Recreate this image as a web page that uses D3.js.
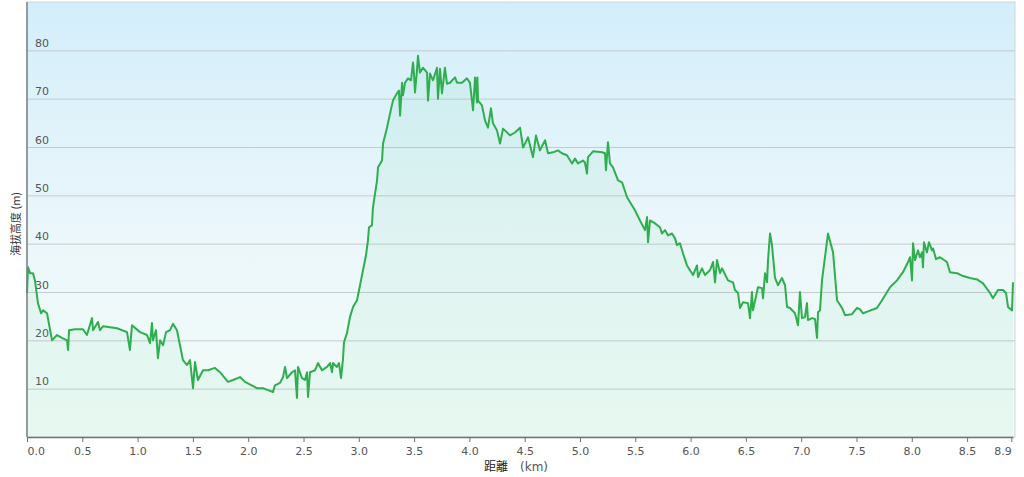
<!DOCTYPE html>
<html>
<head>
<meta charset="utf-8">
<script src="https://cdn.jsdelivr.net/npm/d3@7"></script>
<style>
  html, body { margin: 0; padding: 0; background: #fff; }
  svg { display: block; }
  .tick text { font-family: 'DejaVu Sans', Verdana, sans-serif; font-size: 11px; fill: #555; }
</style>
</head>
<body>
<svg></svg>
<script>
// elevation profile
let distKm = [
  0.000, 0.009, 0.027, 0.054, 0.072, 0.099, 0.127, 0.145, 0.181, 0.226,
  0.271, 0.316, 0.362, 0.371, 0.380, 0.434, 0.506, 0.542, 0.588, 0.597,
  0.642, 0.660, 0.687, 0.814, 0.904, 0.931, 0.949, 1.022, 1.085, 1.112,
  1.130, 1.139, 1.166, 1.184, 1.203, 1.230, 1.257, 1.293, 1.320, 1.356,
  1.410, 1.447, 1.474, 1.501, 1.519, 1.546, 1.591, 1.637, 1.700, 1.745,
  1.817, 1.863, 1.926, 1.971, 2.080, 2.134, 2.179, 2.224, 2.242, 2.288,
  2.315, 2.333, 2.351, 2.396, 2.423, 2.441, 2.450, 2.486, 2.514, 2.532,
  2.541, 2.559, 2.604, 2.631, 2.667, 2.712, 2.740, 2.758, 2.767, 2.803,
  2.821, 2.839, 2.857, 2.866, 2.893, 2.920, 2.948, 2.984, 3.011, 3.038,
  3.065, 3.083, 3.092, 3.119, 3.128, 3.165, 3.174, 3.210, 3.219, 3.255,
  3.282, 3.309, 3.345, 3.363, 3.373, 3.391, 3.400, 3.418, 3.445, 3.472,
  3.490, 3.499, 3.508, 3.526, 3.535, 3.553, 3.580, 3.617, 3.626, 3.644,
  3.671, 3.707, 3.716, 3.734, 3.752, 3.779, 3.797, 3.825, 3.870, 3.888,
  3.933, 3.978, 4.005, 4.033, 4.051, 4.069, 4.072, 4.078, 4.114, 4.141,
  4.168, 4.195, 4.213, 4.250, 4.277, 4.304, 4.367, 4.412, 4.458, 4.485,
  4.530, 4.575, 4.602, 4.638, 4.684, 4.711, 4.756, 4.801, 4.837, 4.882,
  4.928, 4.955, 4.982, 5.027, 5.045, 5.063, 5.072, 5.118, 5.199, 5.226,
  5.235, 5.253, 5.271, 5.298, 5.344, 5.380, 5.425, 5.497, 5.542, 5.588,
  5.606, 5.615, 5.633, 5.678, 5.723, 5.741, 5.769, 5.796, 5.832, 5.859,
  5.877, 5.904, 5.931, 5.967, 6.022, 6.058, 6.067, 6.103, 6.130, 6.175,
  6.203, 6.221, 6.239, 6.266, 6.284, 6.338, 6.383, 6.401, 6.429, 6.447,
  6.474, 6.519, 6.537, 6.555, 6.564, 6.609, 6.646, 6.655, 6.673, 6.691,
  6.700, 6.718, 6.736, 6.763, 6.790, 6.826, 6.854, 6.872, 6.899, 6.944,
  6.971, 6.989, 7.007, 7.034, 7.052, 7.061, 7.098, 7.125, 7.143, 7.152,
  7.170, 7.188, 7.215, 7.242, 7.288, 7.324, 7.369, 7.396, 7.459, 7.505,
  7.532, 7.559, 7.604, 7.685, 7.731, 7.803, 7.866, 7.920, 7.966, 7.984,
  8.002, 8.011, 8.029, 8.056, 8.074, 8.092, 8.101, 8.110, 8.137, 8.155,
  8.183, 8.192, 8.219, 8.255, 8.318, 8.345, 8.409, 8.463, 8.526, 8.590,
  8.644, 8.707, 8.734, 8.779, 8.825, 8.852, 8.870, 8.906, 8.915
]

let elevM = [
  29.8, 35.1, 33.9, 33.9, 32.4, 27.7, 25.6, 26.2, 25.6, 20.0,
  21.1, 20.5, 20.0, 18.0, 22.1, 22.3, 22.3, 21.1, 24.6, 22.1,
  23.8, 22.1, 22.9, 22.5, 21.7, 18.0, 23.1, 21.7, 21.1, 19.4,
  23.6, 20.0, 22.1, 16.3, 20.0, 19.0, 21.7, 22.1, 23.4, 22.1,
  15.9, 14.9, 15.9, 10.1, 15.5, 11.8, 13.8, 13.8, 14.3, 13.4,
  11.4, 11.8, 12.4, 11.4, 10.1, 10.1, 9.7, 9.3, 10.7, 11.2,
  12.4, 14.5, 12.2, 13.4, 13.8, 8.1, 14.5, 12.2, 11.8, 13.4,
  8.3, 13.4, 13.8, 15.3, 13.8, 14.5, 15.3, 13.4, 15.3, 14.5,
  15.3, 12.2, 16.1, 19.6, 21.5, 24.8, 26.9, 28.3, 31.4, 34.5,
  37.6, 40.7, 43.4, 43.8, 47.5, 53.1, 55.8, 57.2, 60.7, 64.0,
  66.9, 69.6, 71.1, 71.7, 66.5, 73.3, 70.7, 73.3, 74.2, 73.8,
  77.5, 75.2, 71.3, 75.8, 78.9, 75.4, 76.4, 75.4, 69.6, 75.2,
  73.8, 76.4, 70.0, 76.2, 71.1, 76.4, 73.1, 73.3, 74.4, 73.3,
  73.3, 74.2, 73.3, 67.6, 74.4, 69.2, 74.4, 69.6, 68.6, 65.5,
  64.0, 68.0, 64.9, 63.4, 60.7, 63.8, 62.4, 63.0, 64.0, 59.9,
  62.0, 57.9, 62.4, 59.3, 61.4, 58.7, 58.9, 59.3, 58.7, 58.3,
  56.6, 57.6, 56.6, 57.2, 56.8, 54.5, 57.9, 59.1, 58.9, 58.7,
  55.2, 61.0, 56.6, 55.8, 53.1, 52.7, 49.6, 46.9, 44.8, 42.8,
  45.5, 40.3, 44.8, 44.2, 43.4, 42.1, 42.8, 41.7, 42.1, 41.1,
  39.7, 40.1, 38.0, 35.5, 33.5, 35.5, 33.1, 34.9, 33.5, 34.5,
  36.2, 32.0, 36.6, 33.9, 34.9, 32.4, 32.0, 30.4, 29.8, 26.7,
  27.9, 27.7, 24.6, 30.0, 26.2, 31.0, 30.8, 28.7, 33.9, 32.0,
  36.6, 42.1, 39.7, 32.9, 31.4, 32.9, 31.4, 26.9, 26.7, 25.6,
  23.1, 30.0, 24.6, 24.8, 27.7, 24.2, 24.6, 24.4, 20.5, 25.8,
  26.2, 32.4, 37.2, 42.1, 38.2, 28.3, 26.7, 25.2, 25.4, 26.7,
  26.4, 25.6, 26.0, 26.7, 28.3, 31.0, 32.4, 34.1, 36.2, 37.2,
  32.4, 40.1, 36.6, 38.6, 37.2, 38.2, 35.1, 40.3, 38.2, 40.3,
  38.6, 39.0, 36.8, 37.2, 36.2, 34.1, 33.9, 33.3, 32.9, 32.6,
  31.8, 29.8, 28.7, 30.4, 30.4, 29.8, 26.9, 26.2, 32.0
]

let xTicks = [0, 0.5, 1, 1.5, 2, 2.5, 3, 3.5, 4, 4.5, 5, 5.5, 6, 6.5, 7, 7.5, 8, 8.5, 8.9]
let yTicks = [10, 20, 30, 40, 50, 60, 70, 80]
let xMax = 8.915
let yMax = 90

let width = 1024
let height = 477
let plotLeft = 27
let plotRight = 1013
let plotTop = 2
let plotBottom = 437

let svg = d3.select('svg').attr('width', width).attr('height', height)

let points = distKm.map((d, i) => ({ km: d, m: elevM[i] }))

let xScale = d3.scaleLinear().domain([0, xMax]).range([plotLeft, plotRight])
let yScale = d3.scaleLinear().domain([0, yMax]).range([plotBottom, plotTop])

let defs = svg.append('defs')

let bg = defs.append('linearGradient').attr('id', 'bg')
  .attr('x1', 0).attr('y1', 0).attr('x2', 0).attr('y2', 1)
bg.append('stop').attr('offset', '0%').attr('stop-color', '#d3eefa')
bg.append('stop').attr('offset', '55%').attr('stop-color', '#ecf7fb')
bg.append('stop').attr('offset', '100%').attr('stop-color', '#f2fcf7')

let fillGrad = defs.append('linearGradient').attr('id', 'areaFill')
  .attr('x1', 0).attr('y1', 0).attr('x2', 0).attr('y2', 1)
fillGrad.append('stop').attr('offset', '0%').attr('stop-color', '#3cc27a').attr('stop-opacity', 0.08)
fillGrad.append('stop').attr('offset', '100%').attr('stop-color', '#3cc27a').attr('stop-opacity', 0.06)

// plot background with light frame
svg.append('rect')
  .attr('x', plotLeft).attr('y', plotTop)
  .attr('width', plotRight + 2 - plotLeft).attr('height', plotBottom - plotTop)
  .attr('fill', 'url(#bg)')
  .attr('stroke', '#cfd6da')
  .attr('stroke-width', 1)

// grid + y labels
let yAxis = d3.axisLeft(yScale)
  .tickValues(yTicks)
  .tickSize(-(plotRight + 2 - plotLeft))
  .tickFormat(d3.format('d'))

let gy = svg.append('g')
  .attr('transform', 'translate(' + plotLeft + ', 0)')
  .call(yAxis)
gy.select('.domain').remove()
gy.selectAll('.tick line').attr('stroke', '#c3cbcf').attr('stroke-width', 1)
gy.selectAll('.tick text')
  .attr('x', 8)
  .attr('dy', -4)
  .attr('text-anchor', 'start')

// area + line
let area = d3.area()
  .x(d => xScale(d.km))
  .y0(yScale(0))
  .y1(d => yScale(d.m))

let line = d3.line()
  .x(d => xScale(d.km))
  .y(d => yScale(d.m))

svg.append('path')
  .datum(points)
  .attr('d', area)
  .attr('fill', 'url(#areaFill)')

svg.append('path')
  .datum(points)
  .attr('d', line)
  .attr('fill', 'none')
  .attr('stroke', '#2fae4e')
  .attr('stroke-width', 2)
  .attr('stroke-linejoin', 'round')

// left axis line
svg.append('line')
  .attr('x1', plotLeft).attr('x2', plotLeft)
  .attr('y1', plotTop).attr('y2', plotBottom)
  .attr('stroke', '#7a7f82').attr('stroke-width', 1.5)

// x axis
let xAxis = d3.axisBottom(xScale)
  .tickValues(xTicks)
  .tickSizeInner(5)
  .tickSizeOuter(0)
  .tickPadding(5)
  .tickFormat(d3.format('.1f'))

let gx = svg.append('g')
  .attr('transform', 'translate(0, ' + plotBottom + ')')
  .call(xAxis)
gx.select('.domain').attr('stroke', '#6f7477').attr('stroke-width', 1.5)
gx.selectAll('.tick line').attr('stroke', '#6f7477')
// first and last labels stay inside the plot width
gx.selectAll('.tick text')
  .attr('text-anchor', (d, i) => i === 0 ? 'start' : (i === xTicks.length - 1 ? 'end' : 'middle'))

// axis titles
svg.append('text')
  .attr('transform', 'translate(20, 224) rotate(-90)')
  .attr('text-anchor', 'middle')
  .style('font-family', "'Noto Sans CJK JP', 'DejaVu Sans', sans-serif")
  .style('font-size', '11px')
  .attr('fill', '#333')
  .text('海拔高度 (m)')

let xt = svg.append('text')
  .attr('x', 516).attr('y', 471)
  .attr('text-anchor', 'middle')
  .style('font-size', '12px')
xt.append('tspan')
  .style('font-family', "'Noto Sans CJK JP', sans-serif")
  .attr('fill', '#222')
  .text('距離　')
xt.append('tspan')
  .style('font-family', "'DejaVu Sans', Verdana, sans-serif")
  .attr('fill', '#555')
  .text('(km)')
</script>
</body>
</html>
